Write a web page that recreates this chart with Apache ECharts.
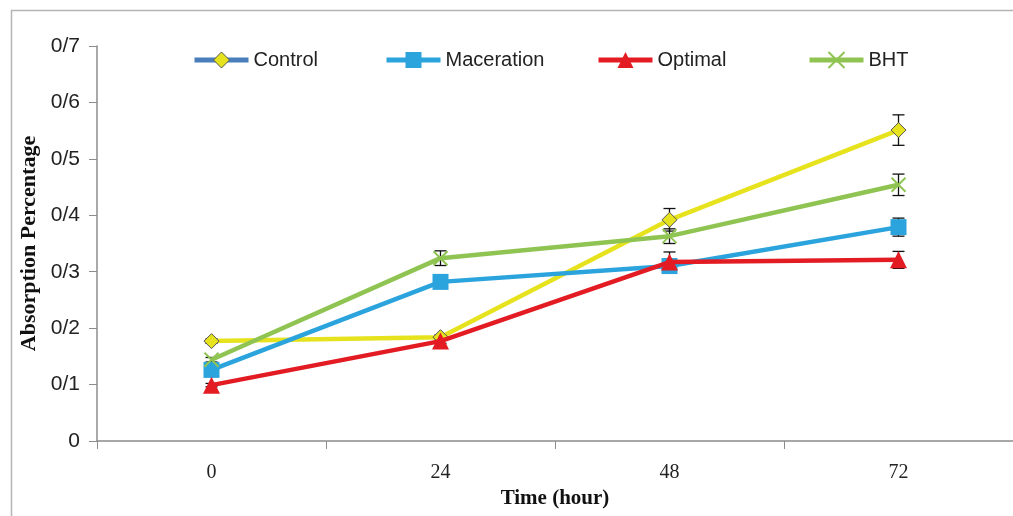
<!DOCTYPE html>
<html>
<head>
<meta charset="utf-8">
<script src="https://cdn.jsdelivr.net/npm/echarts@6/dist/echarts.min.js"></script>
<style>
  html, body { margin: 0; padding: 0; background: #fff; }
  #chart { width: 1013px; height: 516px; }
</style>
</head>
<body>
<div id="chart"></div>
<script>
// Sampling times (hours)
const timeLabels = ['0', '24', '48', '72'];
// Y tick labels as printed on the axis
const yTickLabels = ['0', '0/1', '0/2', '0/3', '0/4', '0/5', '0/6', '0/7'];

// Mean absorption per treatment
const controlValues    = [0.177, 0.184, 0.392, 0.551];
const macerationValues = [0.126, 0.282, 0.310, 0.379];
const optimalValues    = [0.099, 0.177, 0.317, 0.321];
const bhtValues        = [0.144, 0.324, 0.363, 0.454];

// Standard errors
const controlErr    = [0.004, 0.004, 0.020, 0.027];
const macerationErr = [0.003, 0.006, 0.012, 0.016];
const optimalErr    = [0.003, 0.004, 0.018, 0.015];
const bhtErr        = [0.004, 0.013, 0.013, 0.019];

const COLORS = {
  control: '#e6e31e',
  controlLegendLine: '#4a7ebb',
  maceration: '#2ba3dd',
  optimal: '#e31b23',
  bht: '#8fc452'
};

const serifFont = '"Liberation Serif", "Times New Roman", serif';
const sansFont = '"Liberation Sans", Arial, sans-serif';

function errorSeries(name, values, errs) {
  return {
    type: 'custom',
    name: name + ' error',
    z: 1,
    silent: true,
    data: values.map((v, i) => [i, v, errs[i]]),
    renderItem: function (params, api) {
      const x = api.value(0), v = api.value(1), e = api.value(2);
      const top = api.coord([x, v + e]);
      const bot = api.coord([x, v - e]);
      const w = 6;
      const style = { stroke: '#111', lineWidth: 1.3 };
      return {
        type: 'group',
        children: [
          { type: 'line', shape: { x1: top[0], y1: top[1], x2: bot[0], y2: bot[1] }, style },
          { type: 'line', shape: { x1: top[0] - w, y1: top[1], x2: top[0] + w, y2: top[1] }, style },
          { type: 'line', shape: { x1: bot[0] - w, y1: bot[1], x2: bot[0] + w, y2: bot[1] }, style }
        ]
      };
    }
  };
}

function lineSeries(name, values, color, symbol, size, extra) {
  return Object.assign({
    type: 'line',
    name: name,
    data: values,
    symbol: symbol,
    symbolSize: size,
    lineStyle: { color: color, width: 4.5 },
    itemStyle: { color: color },
    z: 3
  }, extra || {});
}

function legendAt(left, item) {
  return {
    left: left,
    top: 50,
    padding: 0,
    itemWidth: 54,
    itemHeight: 20,
    textStyle: { fontFamily: sansFont, fontSize: 20, color: '#222' },
    selectedMode: false,
    data: [Object.assign({ lineStyle: { width: 5 } }, item)]
  };
}

const chart = echarts.init(document.getElementById('chart'), null, { renderer: 'canvas' });

chart.setOption({
  backgroundColor: '#ffffff',
  animation: false,
  graphic: [{
    type: 'rect',
    left: 9, top: 8,
    shape: { width: 1020, height: 520 },
    style: { fill: 'none', stroke: '#b5b5b5', lineWidth: 1.5 },
    silent: true
  }],
  legend: [
    legendAt(192, { name: 'Control', lineStyle: { color: COLORS.controlLegendLine, width: 5 }, itemStyle: { color: COLORS.control, borderColor: '#555', borderWidth: 1 } }),
    legendAt(384, { name: 'Maceration' }),
    legendAt(596, { name: 'Optimal' }),
    legendAt(807, { name: 'BHT' })
  ],
  grid: { left: 97, top: 46, width: 920, height: 395, containLabel: false },
  xAxis: {
    type: 'category',
    data: timeLabels,
    boundaryGap: true,
    name: 'Time (hour)',
    nameLocation: 'middle',
    nameGap: 40,
    nameTextStyle: { fontFamily: serifFont, fontWeight: 'bold', fontSize: 21, color: '#111' },
    axisLine: { lineStyle: { color: '#8c8c8c', width: 1.5 } },
    axisTick: { show: true, alignWithLabel: false, length: 8, lineStyle: { color: '#8c8c8c' } },
    axisLabel: { fontFamily: serifFont, fontSize: 20, color: '#222', margin: 22 },
    splitLine: { show: false }
  },
  yAxis: {
    type: 'value',
    min: 0,
    max: 0.7,
    interval: 0.1,
    name: 'Absorption Percentage',
    nameLocation: 'middle',
    nameGap: 57,
    nameRotate: 90,
    nameTextStyle: { fontFamily: serifFont, fontWeight: 'bold', fontSize: 22, color: '#111' },
    axisLine: { show: true, lineStyle: { color: '#8c8c8c', width: 1.5 } },
    axisTick: { show: true, length: 8, lineStyle: { color: '#8c8c8c' } },
    axisLabel: {
      fontFamily: sansFont, fontSize: 21, color: '#222', margin: 17,
      formatter: function (v) { return yTickLabels[Math.round(v * 10)]; }
    },
    splitLine: { show: false }
  },
  series: [
    lineSeries('Control', controlValues, COLORS.control, 'diamond', 15,
      { itemStyle: { color: COLORS.control, borderColor: '#555', borderWidth: 1 }, z: 2 }),
    lineSeries('Maceration', macerationValues, COLORS.maceration, 'rect', 16),
    lineSeries('Optimal', optimalValues, COLORS.optimal, 'triangle', 17, { z: 4 }),
    lineSeries('BHT', bhtValues, COLORS.bht, 'path://M0,0L10,10M10,0L0,10', 14,
      { itemStyle: { color: COLORS.bht, borderColor: COLORS.bht, borderWidth: 2 }, z: 3 }),
    errorSeries('Control', controlValues, controlErr),
    errorSeries('Maceration', macerationValues, macerationErr),
    errorSeries('Optimal', optimalValues, optimalErr),
    errorSeries('BHT', bhtValues, bhtErr)
  ]
});
</script>
</body>
</html>
